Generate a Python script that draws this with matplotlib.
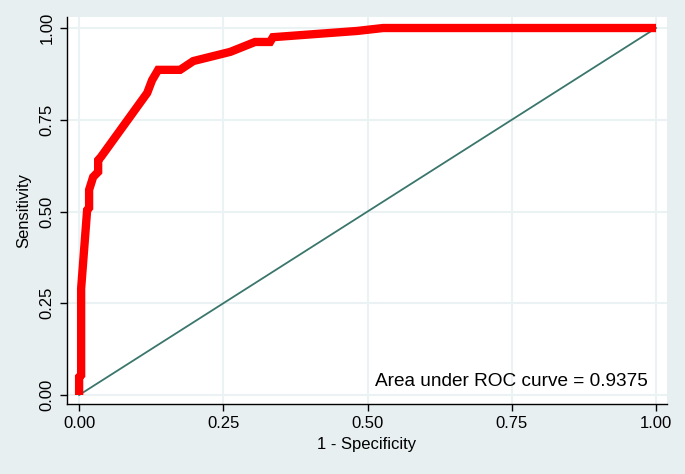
import matplotlib
matplotlib.use("Agg")
import matplotlib.pyplot as plt

# ROC curve points (1 - specificity, sensitivity)
fpr = [0.0, 0.0, 0.0035, 0.0035, 0.0139, 0.0173, 0.0173, 0.0243, 0.033, 0.033,
       0.038, 0.118, 0.1265, 0.137, 0.175, 0.198, 0.262, 0.305, 0.331, 0.336,
       0.482, 0.527, 1.0]
tpr = [0.0, 0.049, 0.054, 0.29, 0.504, 0.51, 0.559, 0.594, 0.608, 0.640,
       0.649, 0.823, 0.858, 0.886, 0.886, 0.910, 0.935, 0.962, 0.962, 0.975,
       0.992, 1.0, 1.0]
ref_x = [0.0, 1.0]
ref_y = [0.0, 1.0]
ticks = [0.0, 0.25, 0.5, 0.75, 1.0]
tick_labels = ["0.00", "0.25", "0.50", "0.75", "1.00"]
auc_text = "Area under ROC curve = 0.9375"

plt.rcParams['font.family'] = ['Liberation Sans', 'DejaVu Sans']

bg = "#e8eff1"
fig = plt.figure(figsize=(6.85, 4.74), dpi=100, facecolor=bg)
ax = fig.add_axes([67/685, 70/474, 600/685, 387/474])
ax.set_facecolor("white")

ax.set_xlim(-0.021, 1.019)
ax.set_ylim(-0.0245, 1.03)

for t in ticks:
    ax.axvline(t, color="#eaf2f3", lw=1.5, zorder=0)
    ax.axhline(t, color="#eaf2f3", lw=1.5, zorder=0)

ax.plot(ref_x, ref_y, color="#3a766c", lw=1.3, zorder=2)
ax.plot(fpr, tpr, color="#ff0000", lw=6.0, solid_joinstyle="miter",
        solid_capstyle="butt", zorder=3)

ax.set_xticks(ticks)
ax.set_xticklabels(tick_labels)
ax.set_yticks(ticks)
ax.set_yticklabels(tick_labels, rotation=90, va="center")
ax.tick_params(axis="both", direction="out", length=5, width=1,
               color="black", labelsize=12, pad=4)

for s in ["top", "right"]:
    ax.spines[s].set_visible(False)
for s in ["left", "bottom"]:
    ax.spines[s].set_color("black")
    ax.spines[s].set_linewidth(1)

ax.set_xlabel("1 - Specificity", fontsize=12, labelpad=4)
ax.set_ylabel("Sensitivity", fontsize=12, labelpad=6)

ax.text(0.986, 0.038, auc_text, ha="right", va="center", fontsize=13.7,
        zorder=4)

fig.savefig("out.png", dpi=100, facecolor=bg)
